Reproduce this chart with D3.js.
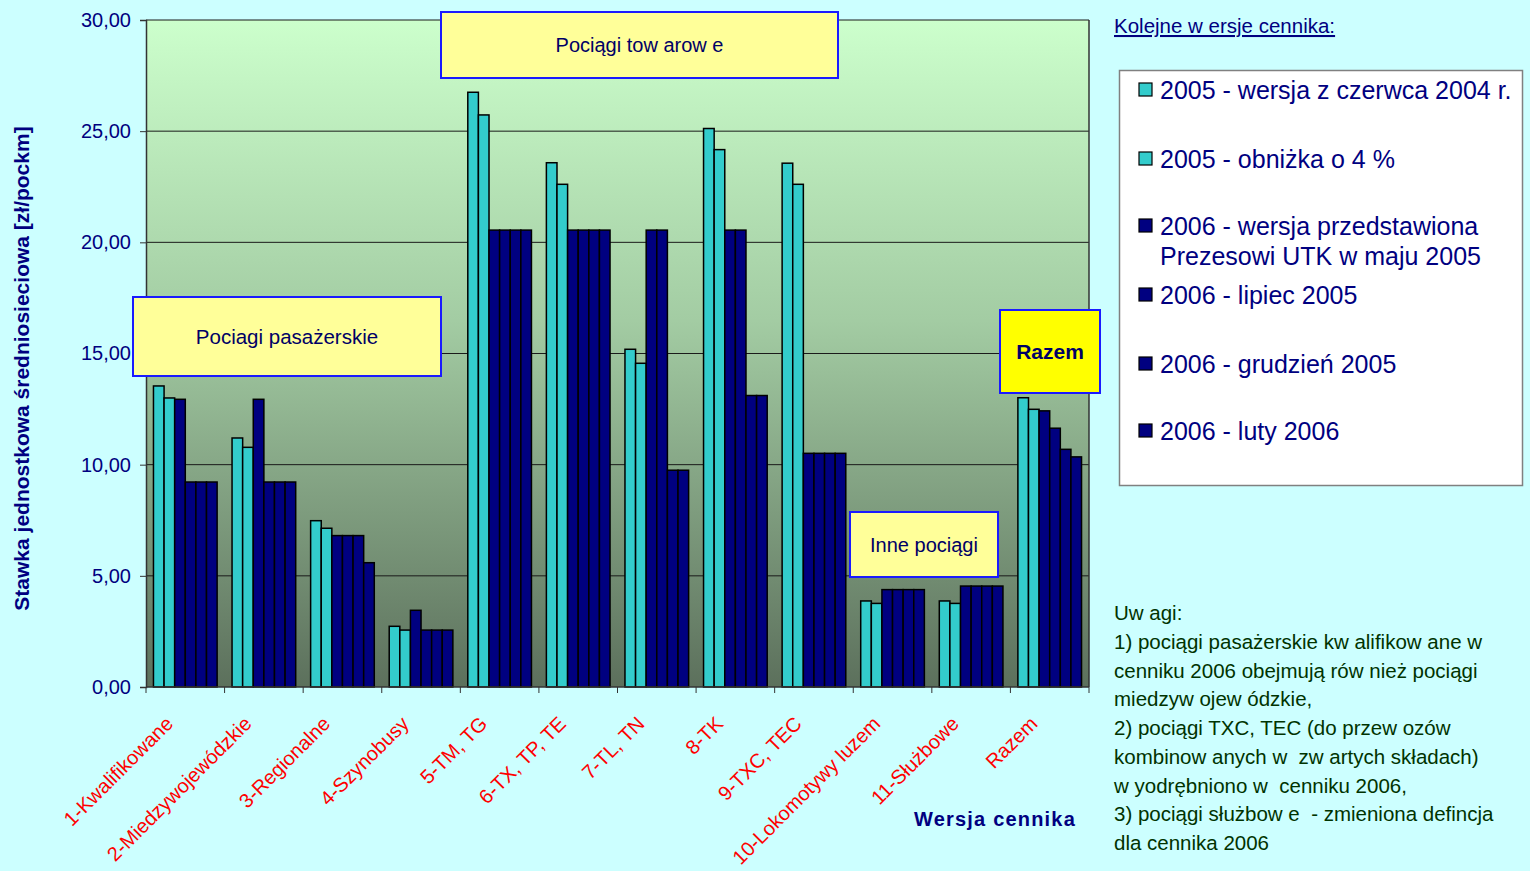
<!DOCTYPE html>
<html>
<head>
<meta charset="utf-8">
<script src="https://cdn.jsdelivr.net/npm/d3@7"></script>
<style>
  html, body { margin: 0; padding: 0; background: #ccffff; }
  svg { display: block; font-family: "Liberation Sans", Arial, sans-serif; }
  text { white-space: pre; }
</style>
</head>
<body>
<svg id="chart" width="1530" height="871"></svg>
<script>
// Kategorie pociągów (oś X)
const categories = [
  "1-Kwalifikowane", "2-Miedzywojewódzkie", "3-Regionalne", "4-Szynobusy",
  "5-TM, TG", "6-TX, TP, TE", "7-TL, TN", "8-TK", "9-TXC, TEC",
  "10-Lokomotywy luzem", "11-Służbowe", "Razem"
];

// Kolejne wersje cennika (serie)
const seriesNames = [
  "2005 - wersja z czerwca 2004 r.",
  "2005 - obniżka o 4 %",
  "2006 - wersja przedstawiona|Prezesowi UTK w maju 2005",
  "2006 - lipiec 2005",
  "2006 - grudzień 2005",
  "2006 - luty 2006"
];

// Stawki [zł/pockm] dla każdej wersji cennika
const v2005Czerwiec2004 = [13.54, 11.20, 7.48, 2.73, 26.75, 23.58, 15.19, 25.12, 23.56, 3.87, 3.87, 13.01];
const v2005Obnizka      = [13.00, 10.78, 7.14, 2.56, 25.73, 22.61, 14.56, 24.17, 22.61, 3.76, 3.76, 12.49];
const v2006Maj2005      = [12.94, 12.94, 6.81, 3.45, 20.55, 20.55, 20.55, 20.55, 10.51, 4.38, 4.54, 12.42];
const v2006Lipiec2005   = [ 9.22,  9.22, 6.81, 2.56, 20.55, 20.55, 20.55, 20.55, 10.51, 4.38, 4.54, 11.64];
const v2006Grudzien2005 = [ 9.22,  9.22, 6.81, 2.56, 20.55, 20.55,  9.75, 13.11, 10.51, 4.38, 4.54, 10.69];
const v2006Luty2006     = [ 9.22,  9.22, 5.59, 2.56, 20.55, 20.55,  9.75, 13.11, 10.51, 4.38, 4.54, 10.35];

const seriesValues = [v2005Czerwiec2004, v2005Obnizka, v2006Maj2005, v2006Lipiec2005, v2006Grudzien2005, v2006Luty2006];
const seriesColors = ["#33cccc", "#33cccc", "#000080", "#000080", "#000080", "#000080"];

const yTicks = [0, 5, 10, 15, 20, 25, 30];

const notes = [
  "Uw agi:",
  "1) pociągi pasażerskie kw alifikow ane w",
  "cenniku 2006 obejmują rów nież pociągi",
  "miedzyw ojew ódzkie,",
  "2) pociągi TXC, TEC (do przew ozów",
  "kombinow anych w  zw artych składach)",
  "w yodrębniono w  cenniku 2006,",
  "3) pociągi służbow e  - zmieniona defincja",
  "dla cennika 2006"
];

const svg = d3.select("#chart");
const plot = { left: 146, right: 1089, top: 20, bottom: 687 };

const x0 = d3.scaleBand().domain(categories).range([plot.left, plot.right])
  .paddingInner(0.19).paddingOuter(0.095);
const x1 = d3.scaleBand().domain(d3.range(seriesNames.length)).range([0, x0.bandwidth()]);
const y = d3.scaleLinear().domain([0, 30]).range([plot.bottom, plot.top]);

// Tło obszaru wykresu
const defs = svg.append("defs");
const grad = defs.append("linearGradient").attr("id", "plotBg")
  .attr("x1", 0).attr("y1", 0).attr("x2", 0).attr("y2", 1);
grad.append("stop").attr("offset", "0%").attr("stop-color", "#ccffcc");
grad.append("stop").attr("offset", "45%").attr("stop-color", "#a3cca3");
grad.append("stop").attr("offset", "100%").attr("stop-color", "#5c705c");

svg.append("rect")
  .attr("x", plot.left).attr("y", plot.top)
  .attr("width", plot.right - plot.left).attr("height", plot.bottom - plot.top)
  .attr("fill", "url(#plotBg)");

// Linie siatki
svg.append("g").selectAll("line").data(yTicks.filter(d => d > 0)).join("line")
  .attr("x1", plot.left).attr("x2", plot.right)
  .attr("y1", d => y(d)).attr("y2", d => y(d))
  .attr("stroke", "#1a1a1a").attr("stroke-width", 1);

// Słupki
const groups = svg.append("g").selectAll("g").data(categories).join("g")
  .attr("transform", d => `translate(${x0(d)},0)`);
groups.selectAll("rect")
  .data((c, ci) => seriesValues.map((vals, si) => ({ si, v: vals[ci] })))
  .join("rect")
  .attr("x", d => x1(d.si))
  .attr("y", d => y(d.v))
  .attr("width", x1.bandwidth())
  .attr("height", d => y(0) - y(d.v))
  .attr("fill", d => seriesColors[d.si])
  .attr("stroke", "#000").attr("stroke-width", 1.5);

// Obramowanie obszaru wykresu (prawa krawędź)
svg.append("line").attr("x1", plot.right).attr("x2", plot.right)
  .attr("y1", plot.top).attr("y2", plot.bottom)
  .attr("stroke", "#333").attr("stroke-width", 1.5);

// Oś Y
const yAxis = svg.append("g").attr("transform", `translate(${plot.left},0)`)
  .call(d3.axisLeft(y).tickValues(yTicks).tickSize(6).tickPadding(9)
    .tickFormat(d => d3.format(".2f")(d).replace(".", ",")));
yAxis.select(".domain").attr("stroke", "#333").attr("stroke-width", 1.5);
yAxis.selectAll(".tick line").attr("stroke", "#333");
yAxis.selectAll("text").attr("font-size", 20).attr("fill", "#000080")
  .attr("font-family", "Liberation Sans, Arial, sans-serif");

// Oś X
const xTickPos = d3.range(categories.length + 1).map(i => plot.left + i * x0.step());
svg.append("line").attr("x1", plot.left).attr("x2", plot.right)
  .attr("y1", plot.bottom).attr("y2", plot.bottom)
  .attr("stroke", "#333").attr("stroke-width", 1.5);
svg.append("g").selectAll("line").data(xTickPos).join("line")
  .attr("x1", d => d).attr("x2", d => d)
  .attr("y1", plot.bottom).attr("y2", plot.bottom + 6)
  .attr("stroke", "#333");

svg.append("g").selectAll("text").data(categories).join("text")
  .attr("transform", d => `translate(${x0(d) + x0.bandwidth() / 2 - 11},${plot.bottom + 38}) rotate(-45)`)
  .attr("text-anchor", "end")
  .attr("font-size", 20).attr("fill", "#ff0000")
  .text(d => d);

// Tytuły osi
svg.append("text")
  .attr("transform", `translate(29,${(123 + 614) / 2}) rotate(-90)`)
  .attr("text-anchor", "middle")
  .attr("font-size", 21).attr("font-weight", "bold").attr("fill", "#000080")
  .text("Stawka jednostkowa średniosieciowa [zł/pockm]");

svg.append("text")
  .attr("x", 995).attr("y", 826)
  .attr("text-anchor", "middle")
  .attr("font-size", 20).attr("font-weight", "bold").attr("fill", "#000080")
  .attr("letter-spacing", 1.2)
  .text("Wersja cennika");

// Etykiety grup pociągów
const boxes = [
  { text: "Pociagi pasażerskie", x: 133, y: 297, w: 308, h: 79, fill: "#ffff99", bold: false, size: 20.5 },
  { text: "Pociągi tow arow e", x: 441, y: 12, w: 397, h: 66, fill: "#ffff99", bold: false, size: 20 },
  { text: "Inne pociągi", x: 850, y: 512, w: 148, h: 65, fill: "#ffff99", bold: false, size: 20 },
  { text: "Razem", x: 1000, y: 310, w: 100, h: 83, fill: "#ffff00", bold: true, size: 21 }
];
const bx = svg.append("g").selectAll("g").data(boxes).join("g");
bx.append("rect")
  .attr("x", d => d.x).attr("y", d => d.y).attr("width", d => d.w).attr("height", d => d.h)
  .attr("fill", d => d.fill).attr("stroke", "#1a1aff").attr("stroke-width", 2);
bx.append("text")
  .attr("x", d => d.x + d.w / 2).attr("y", d => d.y + d.h / 2 + 7)
  .attr("text-anchor", "middle")
  .attr("font-size", d => d.size).attr("fill", "#000066")
  .attr("font-weight", d => d.bold ? "bold" : "normal")
  .text(d => d.text);

// Legenda
svg.append("text").attr("x", 1114).attr("y", 33)
  .attr("font-size", 20.5).attr("fill", "#000080")
  .attr("text-decoration", "underline")
  .text("Kolejne w ersje cennika:");

svg.append("rect").attr("x", 1119.5).attr("y", 70.5).attr("width", 403).attr("height", 415)
  .attr("fill", "#ffffff").attr("stroke", "#808080").attr("stroke-width", 1.5);

const legendY = [90, 159, 226, 295, 364, 431];
const lg = svg.append("g").selectAll("g").data(seriesNames).join("g")
  .attr("transform", (d, i) => `translate(0,${legendY[i]})`);
lg.append("rect").attr("x", 1139).attr("y", -7).attr("width", 13).attr("height", 13)
  .attr("fill", (d, i) => seriesColors[i]).attr("stroke", "#000").attr("stroke-width", 1.2);
lg.append("text").attr("x", 1160).attr("y", 9)
  .attr("font-size", 25).attr("fill", "#000080")
  .selectAll("tspan").data(d => d.split("|")).join("tspan")
  .attr("x", 1160).attr("dy", (d, i) => i === 0 ? 0 : 30)
  .text(d => d);

// Uwagi
svg.append("g").selectAll("text").data(notes).join("text")
  .attr("x", 1114).attr("y", (d, i) => 620 + i * 28.75)
  .attr("font-size", 20.5).attr("fill", "#003300")
  .text(d => d);
</script>
</body>
</html>
